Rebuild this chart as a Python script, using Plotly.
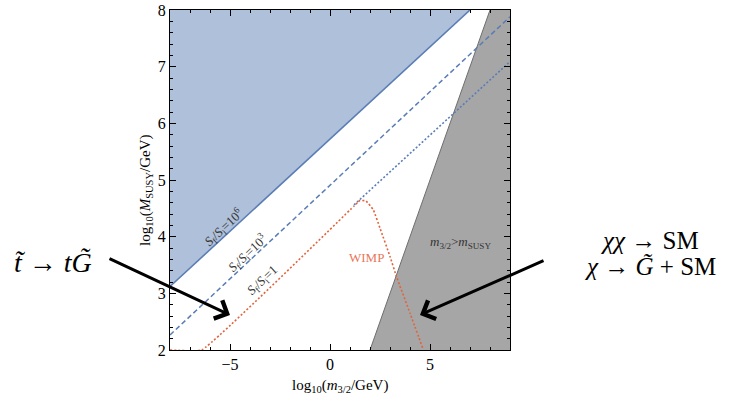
import plotly.graph_objects as go

# axis ranges and ticks
x_range = [-8, 9]
y_range = [2, 8]
x_ticks = [-5, 0, 5]
y_ticks = [2, 3, 4, 5, 6, 7, 8]

# S_f/S_i = 10^6 boundary (solid) - blue excluded region above it
s6_x = [-8, 7]
s6_y = [3.12, 8.0]
# S_f/S_i = 10^3 (dashed)
s3_x = [-8, 9]
s3_y = [2.265, 7.88]
# S_f/S_i = 1 continuation (blue dotted)
s1_x = [1.2, 9]
s1_y = [4.56, 7.09]
# WIMP curve (red dotted)
wimp_x = [-8, -6.42, 1.2, 1.5, 1.8, 2.17, 2.5, 3.0, 3.33, 4.0, 4.67]
wimp_y = [2.0, 2.0, 4.54, 4.64, 4.63, 4.47, 4.15, 3.65, 3.29, 2.65, 2.0]
# m_3/2 = M_SUSY boundary (gray region to the right)
gb_x = [2, 8]
gb_y = [2, 8]

BLUE_FILL = "#afc0da"
BLUE_LINE = "#5a7db5"
RED = "#e0653f"
GRAY_FILL = "#a6a6a6"
SERIF = "Liberation Serif, DejaVu Serif, serif"

# plot area in page pixels
PL, PT, PW, PH = 170, 10, 340, 340


def px(xp):
    return (xp - PL) / PW


def py(yp):
    return (PT + PH - yp) / PH


fig = go.Figure()

# blue region
fig.add_trace(go.Scatter(
    x=s6_x + [x_range[0]], y=s6_y + [y_range[1]],
    fill="toself", fillcolor=BLUE_FILL, mode="none", hoverinfo="skip"))
# gray region
fig.add_trace(go.Scatter(
    x=gb_x + [x_range[1], x_range[1]], y=gb_y + [y_range[1], y_range[0]],
    fill="toself", fillcolor=GRAY_FILL, mode="none", hoverinfo="skip"))
fig.add_trace(go.Scatter(x=gb_x, y=gb_y, mode="lines",
                         line=dict(color="#6e6e6e", width=1)))
# lines
fig.add_trace(go.Scatter(x=s6_x, y=s6_y, mode="lines",
                         line=dict(color=BLUE_LINE, width=1.6)))
fig.add_trace(go.Scatter(x=s3_x, y=s3_y, mode="lines",
                         line=dict(color=BLUE_LINE, width=1.5, dash="5px,3px")))
fig.add_trace(go.Scatter(x=s1_x, y=s1_y, mode="lines",
                         line=dict(color=BLUE_LINE, width=1.6, dash="2px,2px")))
fig.add_trace(go.Scatter(x=wimp_x, y=wimp_y, mode="lines",
                         line=dict(color=RED, width=1.6, dash="2px,2px", shape="spline", smoothing=0.3)))

axis_common = dict(
    showgrid=False, zeroline=False, showline=True, linecolor="black", linewidth=1,
    mirror="ticks", ticks="inside", ticklen=6, tickwidth=1, tickcolor="black",
    tickfont=dict(family=SERIF, size=16, color="black"), ticklabeloverflow="allow",
    automargin=False,
)
fig.update_xaxes(range=x_range, tickvals=x_ticks,
                 minor=dict(dtick=1, ticks="inside", ticklen=3, tickcolor="black"),
                 **axis_common)
fig.update_yaxes(range=y_range, tickvals=y_ticks,
                 minor=dict(dtick=0.2, ticks="inside", ticklen=3, tickcolor="black"),
                 **axis_common)

label_font = dict(family=SERIF, size=13, color="#333333")
ann = [
    dict(x=-5.3, y=4.17, text="<i>S</i><sub>f</sub>/<i>S</i><sub>i</sub>=10<sup>6</sup>", textangle=-43),
    dict(x=-4.12, y=3.71, text="<i>S</i><sub>f</sub>/<i>S</i><sub>i</sub>=10<sup>3</sup>", textangle=-43),
    dict(x=-3.35, y=3.22, text="<i>S</i><sub>f</sub>/<i>S</i><sub>i</sub>=1", textangle=-43),
]
for a in ann:
    fig.add_annotation(xref="x", yref="y", showarrow=False, font=label_font,
                       xanchor="center", yanchor="middle", **a)
fig.add_annotation(xref="x", yref="y", x=1.8, y=3.64, text="WIMP", showarrow=False,
                   xanchor="center", yanchor="middle",
                   font=dict(family=SERIF, size=13, color="#e8775a"))
fig.add_annotation(xref="x", yref="y", x=6.5, y=3.89,
                   text="<i>m</i><sub>3/2</sub>><i>m</i><sub>SUSY</sub>", showarrow=False,
                   xanchor="center", yanchor="middle",
                   font=dict(family=SERIF, size=13, color="#333333"))

# axis titles
fig.add_annotation(xref="paper", yref="paper", x=0.5, y=py(386),
                   xanchor="center", yanchor="middle",
                   text="log<sub>10</sub>(<i>m</i><sub>3/2</sub>/GeV)", showarrow=False,
                   font=dict(family=SERIF, size=15, color="black"))
fig.add_annotation(xref="paper", yref="paper", x=px(146), y=py(190), textangle=-90,
                   xanchor="center", yanchor="middle",
                   text="log<sub>10</sub>(<i>M</i><sub>SUSY</sub>/GeV)", showarrow=False,
                   font=dict(family=SERIF, size=15, color="black"))

# outside labels
fig.add_annotation(xref="paper", yref="paper", x=px(53), y=py(262),
                   xanchor="center", yanchor="middle",
                   text="<i>t\u0303</i> \u2192 <i>t</i><i>G\u0303</i>", showarrow=False,
                   font=dict(family=SERIF, size=28, color="black"))
fig.add_annotation(xref="paper", yref="paper", x=px(650), y=py(240),
                   xanchor="center", yanchor="middle",
                   text="<i>\u03c7\u03c7</i> \u2192 SM", showarrow=False,
                   font=dict(family=SERIF, size=25, color="black"))
fig.add_annotation(xref="paper", yref="paper", x=px(650), y=py(266),
                   xanchor="center", yanchor="middle",
                   text="<i>\u03c7</i> \u2192 <i>G\u0303</i> + SM", showarrow=False,
                   font=dict(family=SERIF, size=25, color="black"))

# arrows
fig.add_annotation(xref="paper", yref="paper", x=px(230), y=py(315),
                   ax=-122, ay=-57, text="", showarrow=True, arrowhead=4,
                   arrowsize=1.3, arrowwidth=3, arrowcolor="black")
fig.add_annotation(xref="paper", yref="paper", x=px(420), y=py(315),
                   ax=125, ay=-55, text="", showarrow=True, arrowhead=4,
                   arrowsize=1.3, arrowwidth=3, arrowcolor="black")

fig.update_layout(width=735, height=401, showlegend=False,
                  margin=dict(l=PL, r=735 - PL - PW, t=PT, b=401 - PT - PH),
                  plot_bgcolor="white", paper_bgcolor="white")

fig.write_html("out.html", config={"displayModeBar": False},
               post_script="document.body.style.margin='0px';")
